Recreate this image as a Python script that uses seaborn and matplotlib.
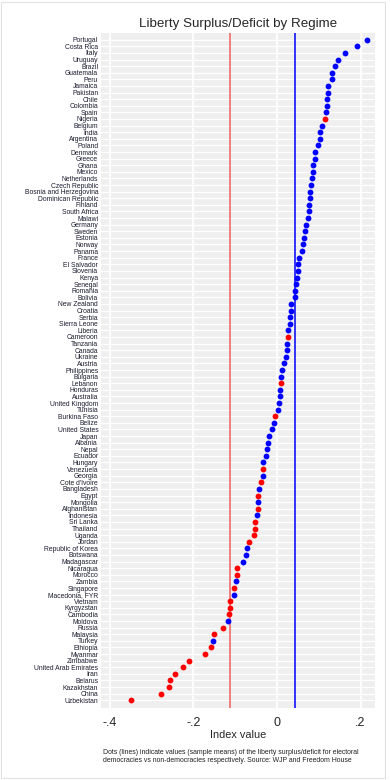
import matplotlib
matplotlib.use("Agg")
import matplotlib.pyplot as plt
import pandas as pd
import seaborn as sns
from matplotlib.patches import Rectangle

countries = [
    "Portugal", "Costa Rica", "Italy", "Uruguay", "Brazil", "Guatemala", "Peru",
    "Jamaica", "Pakistan", "Chile", "Colombia", "Spain", "Nigeria", "Belgium",
    "India", "Argentina", "Poland", "Denmark", "Greece", "Ghana", "Mexico",
    "Netherlands", "Czech Republic", "Bosnia and Herzegovina", "Dominican Republic",
    "Finland", "South Africa", "Malawi", "Germany", "Sweden", "Estonia", "Norway",
    "Panama", "France", "El Salvador", "Slovenia", "Kenya", "Senegal", "Romania",
    "Bolivia", "New Zealand", "Croatia", "Serbia", "Sierra Leone", "Liberia",
    "Cameroon", "Tanzania", "Canada", "Ukraine", "Austria", "Philippines",
    "Bulgaria", "Lebanon", "Honduras", "Australia", "United Kingdom", "Tunisia",
    "Burkina Faso", "Belize", "United States", "Japan", "Albania", "Nepal",
    "Ecuador", "Hungary", "Venezuela", "Georgia", "Cote d'Ivoire", "Bangladesh",
    "Egypt", "Mongolia", "Afghanistan", "Indonesia", "Sri Lanka", "Thailand",
    "Uganda", "Jordan", "Republic of Korea", "Botswana", "Madagascar", "Nicaragua",
    "Morocco", "Zambia", "Singapore", "Macedonia, FYR", "Vietnam", "Kyrgyzstan",
    "Cambodia", "Moldova", "Russia", "Malaysia", "Turkey", "Ethiopia", "Myanmar",
    "Zimbabwe", "United Arab Emirates", "Iran", "Belarus", "Kazakhstan", "China",
    "Uzbekistan",
]

surplus = [
    0.216, 0.192, 0.162, 0.146, 0.140, 0.132, 0.132, 0.123, 0.121, 0.120, 0.120,
    0.118, 0.116, 0.108, 0.103, 0.102, 0.098, 0.092, 0.090, 0.086, 0.086, 0.084,
    0.082, 0.080, 0.078, 0.077, 0.076, 0.074, 0.070, 0.066, 0.064, 0.062, 0.060,
    0.053, 0.050, 0.050, 0.048, 0.046, 0.044, 0.044, 0.034, 0.034, 0.030, 0.030,
    0.027, 0.027, 0.025, 0.025, 0.022, 0.018, 0.012, 0.010, 0.010, 0.008, 0.008,
    0.006, 0.002, -0.005, -0.007, -0.011, -0.018, -0.021, -0.023, -0.026, -0.034,
    -0.034, -0.034, -0.038, -0.042, -0.045, -0.045, -0.045, -0.048, -0.053,
    -0.053, -0.055, -0.066, -0.072, -0.074, -0.082, -0.096, -0.096, -0.098,
    -0.103, -0.103, -0.112, -0.112, -0.115, -0.118, -0.129, -0.151, -0.153,
    -0.158, -0.172, -0.211, -0.225, -0.244, -0.257, -0.259, -0.278, -0.350,
]

# D = electoral democracy, N = non-democracy
regime = list(
    "DDDDDDDDDDDDNDDDDDDDDDDDDDDDDDDDDDDDDDDDDDDDDNDDDDDDNDDDDNDDDDDDDNDN"
    "DNDNDNNNNDDDNNDNDNNNDNNDNNNNNNNNN"
)

regime_means = [0.042, -0.113]
regime_names = ["D", "N"]
regime_colors = {"D": "blue", "N": "red"}
line_colors = ["#0000ff", "#f06060"]

xticks = [-0.4, -0.2, 0.0, 0.2]
xtick_labels = ["-.4", "-.2", "0", ".2"]

title = "Liberty Surplus/Deficit by Regime"
note = ("Dots (lines) indicate values (sample means) of the liberty surplus/deficit for electoral\n"
        "democracies vs non-democracies respectively. Source: WJP and Freedom House")


def liberty_dotplot(df):
    fig = plt.figure(figsize=(3.9, 7.8), dpi=100)
    ax = fig.add_axes([0.259, 0.092, 0.703, 0.866])
    ax.set_facecolor("#efefef")

    for x in xticks:
        ax.axvline(x, color="white", lw=1.3, zorder=0)
    for i in range(len(countries)):
        ax.axhline(i, color="white", lw=0.9, zorder=0)

    for mean, color in zip(regime_means, line_colors):
        ax.axvline(mean, color=color, lw=1.1, zorder=1)

    sns.stripplot(data=df, x="surplus", y="country", hue="regime", order=countries,
                  palette=regime_colors, jitter=False, size=4.2, linewidth=0,
                  legend=False, ax=ax, zorder=3)

    ax.set_xlim(-0.421, 0.235)
    ax.set_ylim(len(countries) - 1 + 1.2, -1.05)
    ax.set_xticks(xticks)
    ax.set_xticklabels(xtick_labels, fontsize=9)
    ax.tick_params(axis="x", length=4, width=0.8, color="#333333", pad=2)
    ax.tick_params(axis="y", length=0, pad=2, labelsize=4.9, labelcolor="#1c1c30")
    ax.grid(False)
    for s in ax.spines.values():
        s.set_visible(False)
    ax.set_ylabel("")
    ax.set_xlabel("Index value", fontsize=7.8, labelpad=1)
    ax.set_title(title, fontsize=9.6, pad=4)

    fig.text(0.265, 0.021, note, fontsize=4.95, ha="left", va="bottom",
             linespacing=1.2, color="#222222")
    fig.patches.append(Rectangle((0.002, 0.002), 0.986, 0.995, transform=fig.transFigure,
                                 fill=False, edgecolor="#e2e2e2", lw=0.8))
    fig.savefig("out.png", dpi=100)
    plt.close()


def main():
    sns.set_style("white")
    plt.rcParams["font.family"] = ["Liberation Sans", "DejaVu Sans"]
    df = pd.DataFrame({"country": countries, "surplus": surplus, "regime": regime})
    liberty_dotplot(df)


if __name__ == "__main__":
    main()
